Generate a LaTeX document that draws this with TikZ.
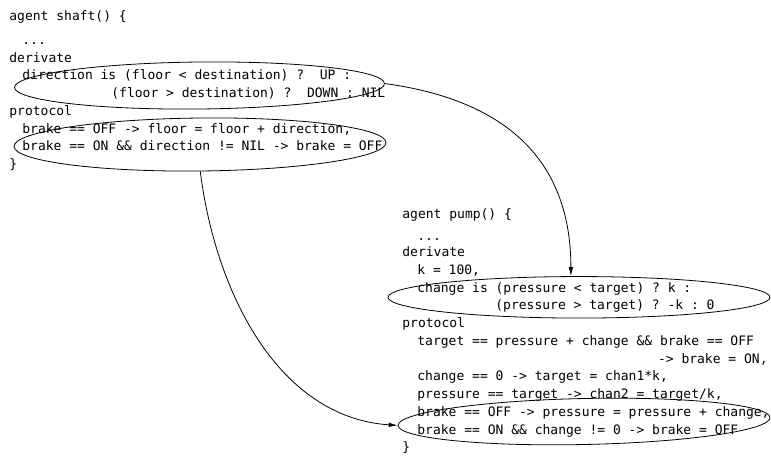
\documentclass[tikz,border=0pt]{standalone}
\usepackage{fontspec}
\setmonofont{DejaVu Sans Mono}
\usetikzlibrary{arrows.meta,shapes.geometric,calc}
\newcommand\codefont{\ttfamily\fontsize{13}{15}\selectfont}
\begin{document}
\begin{tikzpicture}[x=1pt,y=-1pt,line width=0.8pt,
  code/.style={font=\codefont,inner sep=0pt,anchor=base west},
  codeR/.style={font=\codefont,inner sep=0pt,anchor=base east},
  ring/.style={draw,ellipse,inner sep=0pt},
  link/.style={-{Latex[length=9pt,width=4.5pt]}}]
\fill[white] (0,0) rectangle (771,472);
\useasboundingbox (0,0) rectangle (771,472);

% agent shaft
\node[code] (s0) at (9,20)     {agent shaft() \{};
\node[code] (s1) at (22,44.6)  {...};
\node[code] (s2) at (9,62.2)   {derivate};
\node[code] (s3) at (22,79.9)  {direction is (floor < destination) ?\ \ UP :};
\node[code] (s4) at (111,97.6) {(floor > destination) ?\ \ DOWN : NIL};
\node[code] (s5) at (9,115.3)  {protocol};
\node[code] (s6) at (22,133)   {brake == OFF -> floor = floor + direction,};
\node[code] (s7) at (22,150.7) {brake == ON \&\& direction != NIL -> brake = OFF};
\node[code] (s8) at (9,168.4)  {\}};

% agent pump
\node[code] (p0) at (402,218)   {agent pump() \{};
\node[code] (p1) at (417,240)   {...};
\node[code] (p2) at (402,256.6) {derivate};
\node[code] (p3) at (417,274.4) {k = 100,};
\node[code] (p4) at (417,292.1) {change is (pressure < target) ? k :};
\node[code] (p5) at (495,309.9) {(pressure > target) ? -k : 0};
\node[code] (p6) at (402,327.6) {protocol};
\node[code] (p7) at (417,345.4) {target == pressure + change \&\& brake == OFF};
\node[codeR] (p8) at (768,363.1) {-> brake = ON,};
\node[code] (p9) at (417,380.9)  {change == 0 -> target = chan1*k,};
\node[code] (p10) at (417,398.6) {pressure == target -> chan2 = target/k,};
\node[code] (p11) at (417,416.4) {brake == OFF -> pressure = pressure + change,};
\node[code] (p12) at (417,434.1) {brake == ON \&\& change != 0 -> brake = OFF};
\node[code] (p13) at (402,451.9) {\}};

% rings round the related clauses
\node[ring,minimum width=370pt,minimum height=47pt,rotate=0.6] (dirRing) at (199.5,85.5) {};
\node[ring,minimum width=372pt,minimum height=53pt,rotate=0.6] (brkRing) at (200,144.5) {};
\node[ring,minimum width=382pt,minimum height=41.5pt] (chgRing) at (579,297.3) {};
\node[ring,minimum width=372pt,minimum height=46pt,rotate=1.2] (pbrkRing) at (584,421.5) {};

% dependencies
\draw[link] (dirRing.east) .. controls ($(dirRing.east)+(110,15)$) and ($(chgRing.111)+(0,-125)$) .. (chgRing.111);
\draw[link] (brkRing.south) .. controls ($(brkRing.south)+(15,120)$) and ($(pbrkRing.west)+(-120,-8)$) .. (pbrkRing.west);
\end{tikzpicture}
\end{document}
